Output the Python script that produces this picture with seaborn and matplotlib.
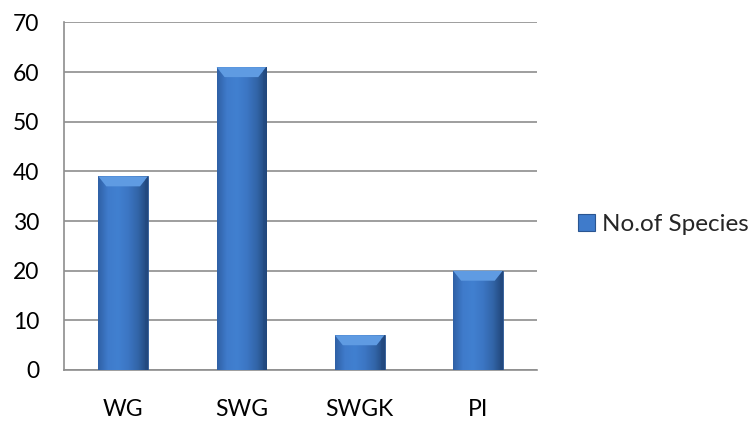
import matplotlib
matplotlib.use("Agg")
import matplotlib.pyplot as plt
import matplotlib.colors as mcolors
from matplotlib.patches import Polygon, Patch
import numpy as np
import pandas as pd
import seaborn as sns

categories = ["WG", "SWG", "SWGK", "PI"]
species_counts = [39, 61, 7, 20]
series_name = "No.of Species"
y_ticks = [0, 10, 20, 30, 40, 50, 60, 70]

df = pd.DataFrame({"Region": categories, "Count": species_counts})

sns.set_theme(style="white")
plt.rcParams["font.family"] = ["Lato", "DejaVu Sans"]

fig = plt.figure(figsize=(7.48, 4.23), dpi=100)
ax = fig.add_axes([0.0856, 0.1253, 0.6324, 0.8217])

base = "#3d77c6"
sns.barplot(data=df, x="Region", y="Count", color=base, width=0.42,
            saturation=1, ax=ax, zorder=3, edgecolor="none")

grid_c = "#8e8e8e"
ax.set_ylim(0, 70)
ax.set_xlim(-0.5, len(categories) - 0.5)
ax.set_yticks(y_ticks)
ax.yaxis.grid(True, color=grid_c, linewidth=1.2, zorder=0)
ax.set_axisbelow(True)

for s in ["top", "right"]:
    ax.spines[s].set_visible(False)
for s in ["left", "bottom"]:
    ax.spines[s].set_color(grid_c)
    ax.spines[s].set_linewidth(1.2)

ax.tick_params(axis="y", length=5, width=1.2, color=grid_c, pad=13,
               labelsize=16.5, labelcolor="black", direction="out")
ax.set_xticks(np.arange(-0.5, len(categories), 1.0), minor=True)
ax.tick_params(axis="x", which="minor", length=6, width=1.2, color=grid_c,
               direction="out")
ax.tick_params(axis="x", which="major", length=0, pad=21, labelsize=16.5,
               labelcolor="black")
ax.set_xlabel("")
ax.set_ylabel("")

# beveled, shaded bar faces
cmap = mcolors.LinearSegmentedColormap.from_list(
    "bar", ["#2f60a5", "#3f7bcb", "#4180d0", "#3c76c4", "#3265a8", "#214679"])
grad = np.linspace(0, 1, 256).reshape(1, -1)
fig.canvas.draw()
inv = ax.transData.inverted()
px_x = inv.transform((8, 0))[0] - inv.transform((0, 0))[0]
px_y = inv.transform((0, 10))[1] - inv.transform((0, 0))[1]
for p in list(ax.patches):
    x0, y0 = p.get_x(), p.get_y()
    w, h = p.get_width(), p.get_height()
    im = ax.imshow(grad, cmap=cmap, aspect="auto",
                   extent=(x0, x0 + w, y0, y0 + h), zorder=3.5)
    im.set_clip_path(p)
    dx = px_x
    dy = min(px_y, h * 0.45)
    top = Polygon([(x0, y0 + h), (x0 + w, y0 + h), (x0 + w - dx, y0 + h - dy),
                   (x0 + dx, y0 + h - dy)], closed=True,
                  facecolor="#5f9be2", edgecolor="none", zorder=4)
    ax.add_patch(top)
    right = Polygon([(x0 + w, y0 + h), (x0 + w, y0), (x0 + w - dx * 0.4, y0),
                     (x0 + w - dx * 0.4, y0 + h - dy * 0.4)], closed=True,
                    facecolor="#23497f", edgecolor="none", alpha=0.55, zorder=4)
    ax.add_patch(right)
    p.set_edgecolor("#2a5591")
    p.set_linewidth(0.6)

ax.set_ylim(0, 70)
ax.set_xlim(-0.5, len(categories) - 0.5)

handle = Patch(facecolor="#3f7bcb", edgecolor="#2a5591", linewidth=0.8)
ax.legend([handle], [series_name], loc="center left",
          bbox_to_anchor=(1.04, 0.418), frameon=False, fontsize=17.5,
          handlelength=0.7, handleheight=0.7, handletextpad=0.3)

fig.savefig("out.png", dpi=100)
